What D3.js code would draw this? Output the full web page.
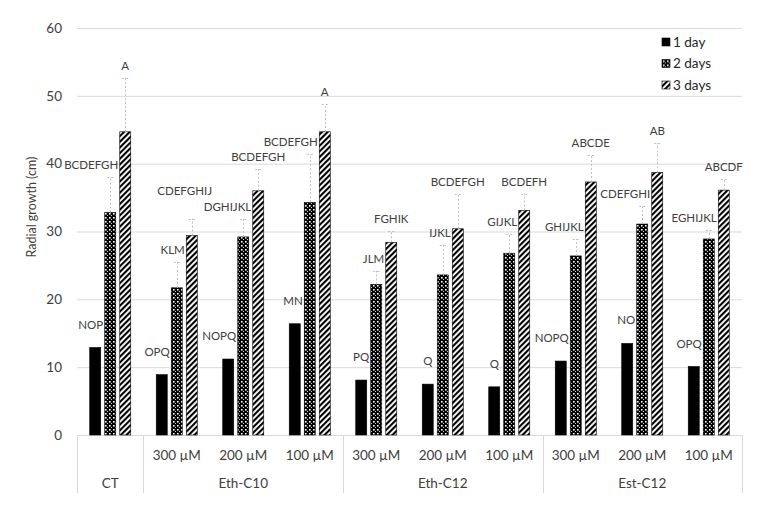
<!DOCTYPE html>
<html>
<head>
<meta charset="utf-8">
<script src="https://cdn.jsdelivr.net/npm/d3@7"></script>
<style>
  body { margin: 0; background: #fff; }
  svg { font-family: Lato, 'Open Sans', sans-serif; }
</style>
</head>
<body>
<svg width="760" height="510"></svg>
<script>
const groups = ['CT', 'Eth-C10', 'Eth-C10', 'Eth-C10', 'Eth-C12', 'Eth-C12', 'Eth-C12', 'Est-C12', 'Est-C12', 'Est-C12']
const doses = ['', '300 µM', '200 µM', '100 µM', '300 µM', '200 µM', '100 µM', '300 µM', '200 µM', '100 µM']
const series = ['1 day', '2 days', '3 days']

const day1 = [12.9, 8.9, 11.2, 16.4, 8.1, 7.5, 7.1, 10.9, 13.5, 10.1]
const day2 = [32.8, 21.7, 29.2, 34.3, 22.2, 23.6, 26.8, 26.4, 31.1, 28.9]
const day3 = [44.7, 29.4, 36.0, 44.7, 28.4, 30.4, 33.1, 37.3, 38.7, 36.1]

const err1 = [0, 0, 0, 0, 0, 0, 0, 0, 0, 0]
const err2 = [5.2, 3.8, 2.7, 7.1, 2.0, 4.4, 2.9, 2.5, 2.6, 1.3]
const err3 = [8.0, 2.5, 3.2, 4.1, 1.7, 5.2, 2.5, 4.0, 4.3, 1.7]

const lab1 = ['NOP', 'OPQ', 'NOPQ', 'MN', 'PQ', 'Q', 'Q', 'NOPQ', 'NO', 'OPQ']
const lab2 = ['BCDEFGH', 'KLM', 'DGHIJKL', 'BCDEFGH', 'JLM', 'IJKL', 'GIJKL', 'GHIJKL', 'CDEFGHI', 'EGHIJKL']
const lab3 = ['A', 'CDEFGHIJ', 'BCDEFGH', 'A', 'FGHIK', 'BCDEFGH', 'BCDEFH', 'ABCDE', 'AB', 'ABCDF']

const yTicks = [0, 10, 20, 30, 40, 50, 60]

const values = [day1, day2, day3]
const errors = [err1, err2, err3]
const labels = [lab1, lab2, lab3]

const svg = d3.select('svg')
const plotLeft = 77, plotRight = 742, plotTop = 28, plotBottom = 435

const y = d3.scaleLinear().domain([0, 60]).range([plotBottom, plotTop])
const x0 = d3.scaleBand()
             .domain(d3.range(doses.length))
             .range([plotLeft, plotRight])
             .paddingInner(0.383)
             .paddingOuter(0.1915)
const x1 = d3.scaleBand()
             .domain(series)
             .range([0, x0.bandwidth()])
             .paddingInner(0.267)
             .paddingOuter(0)

const defs = svg.append('defs')
const dots = defs.append('pattern')
                 .attr('id', 'dots')
                 .attr('patternUnits', 'userSpaceOnUse')
                 .attr('width', 4).attr('height', 4)
dots.append('rect').attr('width', 4).attr('height', 4).attr('fill', '#000')
dots.append('rect').attr('x', 1).attr('y', 1).attr('width', 1.6).attr('height', 1.6).attr('fill', '#fff')
dots.append('rect').attr('x', 3).attr('y', 3).attr('width', 1).attr('height', 1).attr('fill', '#ccc')

const hatch = defs.append('pattern')
                  .attr('id', 'hatch')
                  .attr('patternUnits', 'userSpaceOnUse')
                  .attr('width', 4).attr('height', 4)
                  .attr('patternTransform', 'rotate(45)')
hatch.append('rect').attr('width', 4).attr('height', 4).attr('fill', '#fff')
hatch.append('rect').attr('width', 2.1).attr('height', 4).attr('fill', '#000')

const fills = ['#000', 'url(#dots)', 'url(#hatch)']

// grid
svg.append('g')
   .selectAll('line')
   .data(yTicks)
   .enter().append('line')
   .attr('x1', plotLeft).attr('x2', plotRight)
   .attr('y1', d => y(d) + 0.5).attr('y2', d => y(d) + 0.5)
   .attr('stroke', '#d9d9d9')

svg.append('g')
   .selectAll('text')
   .data(yTicks)
   .enter().append('text')
   .attr('x', 62)
   .attr('y', d => y(d))
   .attr('dy', '0.35em')
   .attr('text-anchor', 'end')
   .attr('font-size', 13.5)
   .attr('fill', '#404040')
   .text(d => d)

svg.append('text')
   .attr('transform', 'translate(36,207) rotate(-90)')
   .attr('text-anchor', 'middle')
   .attr('font-size', 12.5)
   .attr('fill', '#404040')
   .text('Radial growth (cm)')

// category axis
const catLeft = i => x0(i) - x0.step() * x0.paddingInner() / 2
const splits = [0]
groups.forEach((g, i) => { if (i > 0 && g !== groups[i - 1]) splits.push(i) })

svg.append('g')
   .selectAll('line')
   .data(splits.map(catLeft).concat([plotRight]))
   .enter().append('line')
   .attr('x1', d => Math.round(d) + 0.5).attr('x2', d => Math.round(d) + 0.5)
   .attr('y1', plotBottom).attr('y2', 493)
   .attr('stroke', '#d9d9d9')

svg.append('g')
   .selectAll('text')
   .data(doses)
   .enter().append('text')
   .attr('x', (d, i) => x0(i) + x0.bandwidth() / 2)
   .attr('y', 455)
   .attr('dy', '0.35em')
   .attr('text-anchor', 'middle')
   .attr('font-size', 13.5)
   .attr('fill', '#404040')
   .text(d => d)

svg.append('g')
   .selectAll('text')
   .data(splits)
   .enter().append('text')
   .attr('x', (d, k) => {
     const end = k + 1 < splits.length ? catLeft(splits[k + 1]) : plotRight
     return (catLeft(d) + end) / 2
   })
   .attr('y', 483)
   .attr('dy', '0.35em')
   .attr('text-anchor', 'middle')
   .attr('font-size', 13.5)
   .attr('fill', '#404040')
   .text(d => groups[d])

// bars
const rows = []
doses.forEach((d, i) => {
  series.forEach((s, j) => {
    rows.push({ i, j, s, v: values[j][i], e: errors[j][i], label: labels[j][i] })
  })
})

const barX = d => x0(d.i) + x1(d.s)

svg.append('g')
   .selectAll('rect')
   .data(rows)
   .enter().append('rect')
   .attr('x', barX)
   .attr('y', d => y(d.v))
   .attr('width', x1.bandwidth())
   .attr('height', d => y(0) - y(d.v))
   .attr('fill', d => fills[d.j])
   .attr('stroke', '#000')
   .attr('stroke-width', 0.6)

// error bars
const eb = svg.append('g')
              .selectAll('g')
              .data(rows.filter(d => d.e > 0))
              .enter().append('g')
              .attr('stroke', '#bfbfbf')
              .attr('stroke-dasharray', '2,2')
eb.append('line')
  .attr('x1', d => Math.round(barX(d) + x1.bandwidth() / 2) + 0.5)
  .attr('x2', d => Math.round(barX(d) + x1.bandwidth() / 2) + 0.5)
  .attr('y1', d => y(d.v))
  .attr('y2', d => y(d.v + d.e))
eb.append('line')
  .attr('x1', d => barX(d) + x1.bandwidth() / 2 - 3)
  .attr('x2', d => barX(d) + x1.bandwidth() / 2 + 3)
  .attr('y1', d => Math.round(y(d.v + d.e)) + 0.5)
  .attr('y2', d => Math.round(y(d.v + d.e)) + 0.5)

// letter labels: above the error bar, kept clear of the next bar
const labelSel = svg.append('g')
   .selectAll('text')
   .data(rows)
   .enter().append('text')
   .attr('font-size', 11.5)
   .attr('fill', '#404040')
   .attr('text-anchor', 'middle')
   .attr('dy', '0.35em')
   .text(d => d.label)
   .each(function (d) {
     d.w = this.getComputedTextLength()
     const cx = barX(d) + x1.bandwidth() / 2
     const next = d.j < series.length - 1 ? barX(d) + x1.step() : Infinity
     d.lx = Math.min(cx, next - 1.5 - d.w / 2)
     d.ly = d.e > 0 ? y(d.v + d.e) - 12 : y(d.v) - 23
   })

// lift a last-bar label that runs into the next category's labels
rows.forEach(a => {
  if (a.j !== series.length - 1) return
  rows.filter(b => b.i === a.i + 1).forEach(b => {
    const xHit = a.lx + a.w / 2 > b.lx - b.w / 2 && b.lx + b.w / 2 > a.lx - a.w / 2
    const yHit = Math.abs(a.ly - b.ly) < 14
    if (xHit && yHit) {
      a.ly = b.ly - 15.5
      a.lx = Math.min(a.lx, catLeft(a.i + 1) + 2 - a.w / 2)
    }
  })
})

labelSel.attr('x', d => d.lx).attr('y', d => d.ly)

// legend
const legend = svg.append('g')
                  .selectAll('g')
                  .data(series)
                  .enter().append('g')
                  .attr('transform', (d, i) => 'translate(662,' + (42 + i * 21.5) + ')')
legend.append('rect')
      .attr('x', 0).attr('y', -4)
      .attr('width', 8).attr('height', 8)
      .attr('fill', (d, i) => fills[i])
      .attr('stroke', '#000')
      .attr('stroke-width', 0.6)
legend.append('text')
      .attr('x', 11)
      .attr('dy', '0.35em')
      .attr('font-size', 13.5)
      .attr('fill', '#262626')
      .text(d => d)
</script>
</body>
</html>
